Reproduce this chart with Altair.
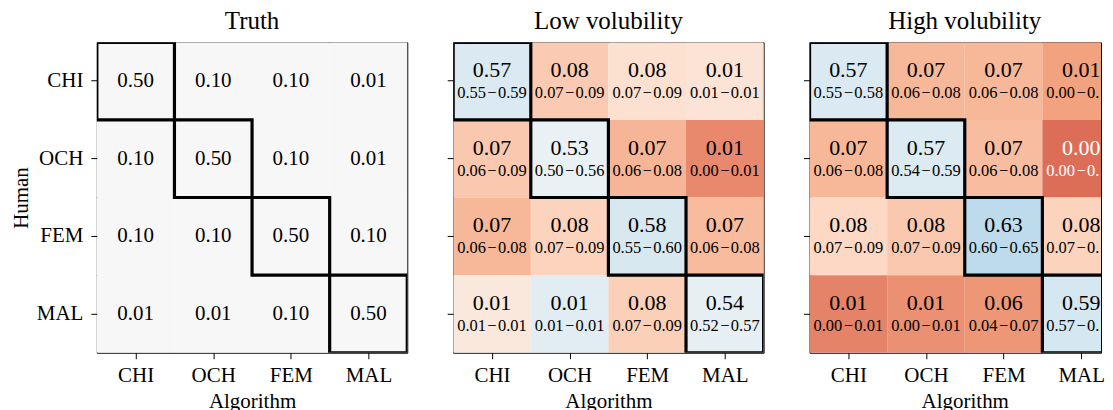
import altair as alt
import pandas as pd

categories = ["CHI", "OCH", "FEM", "MAL"]
panel_titles = ["Truth", "Low volubility", "High volubility"]

truth_vals = [[0.50, 0.10, 0.10, 0.01],
              [0.10, 0.50, 0.10, 0.01],
              [0.10, 0.10, 0.50, 0.10],
              [0.01, 0.01, 0.10, 0.50]]

low_vals = [[0.57, 0.08, 0.08, 0.01],
            [0.07, 0.53, 0.07, 0.01],
            [0.07, 0.08, 0.58, 0.07],
            [0.01, 0.01, 0.08, 0.54]]
low_lo = [[0.55, 0.07, 0.07, 0.01],
          [0.06, 0.50, 0.06, 0.00],
          [0.06, 0.07, 0.55, 0.06],
          [0.01, 0.01, 0.07, 0.52]]
low_hi = [[0.59, 0.09, 0.09, 0.01],
          [0.09, 0.56, 0.08, 0.01],
          [0.08, 0.09, 0.60, 0.08],
          [0.01, 0.01, 0.09, 0.57]]
# relative deviation from truth (drives the colour)
low_dev = [[0.15, -0.26, -0.16, -0.14],
           [-0.27, 0.07, -0.34, -0.48],
           [-0.33, -0.23, 0.17, -0.32],
           [-0.11, 0.11, -0.24, 0.09]]

high_vals = [[0.57, 0.07, 0.07, 0.01],
             [0.07, 0.57, 0.07, 0.00],
             [0.08, 0.08, 0.63, 0.08],
             [0.01, 0.01, 0.06, 0.59]]
high_lo = [[0.55, 0.06, 0.06, 0.00],
           [0.06, 0.54, 0.06, 0.00],
           [0.07, 0.07, 0.60, 0.07],
           [0.00, 0.00, 0.04, 0.57]]
high_hi = [[0.58, 0.08, 0.08, 0.01],
           [0.08, 0.59, 0.08, 0.01],
           [0.09, 0.09, 0.65, 0.09],
           [0.01, 0.01, 0.07, 0.62]]
high_dev = [[0.15, -0.33, -0.33, -0.41],
            [-0.33, 0.14, -0.31, -0.56],
            [-0.21, -0.27, 0.26, -0.23],
            [-0.50, -0.46, -0.44, 0.18]]

# diverging palette (RdBu) and its stops on the deviation axis
rdbu_colors = ["#67001f", "#b2182b", "#d6604d", "#f4a582", "#fddbc7", "#f7f7f7",
               "#d1e5f0", "#92c5de", "#4393c3", "#2166ac", "#053061"]
rdbu_stops = [-1.0, -0.8, -0.6, -0.4, -0.2, 0.0, 0.2, 0.4, 0.6, 0.8, 1.0]

FONT = "Liberation Serif"
FULL = 311        # full panel size in px
CUT = 292         # visible width of the last panel (cut by the page edge)
CI_HALF = 35      # half width of a CI label in px
N = len(categories)


def build_df(vals, lo, hi, dev, width):
    xmax = N * width / FULL          # visible part of the column axis
    rows = []
    for i, h in enumerate(categories):
        for j, a in enumerate(categories):
            center_px = (j + 0.5) * FULL / N
            rows.append({
                "human": h,
                "algo": a,
                "c0": j,
                "c1": min(j + 1, xmax),
                "cm": j + 0.5,
                "co": (xmax + 0.035) if j + 1 > xmax else j + 1,
                "label": f"{vals[i][j]:.2f}",
                "ci": (f"{lo[i][j]:.2f}\u200a\u2212\u200a{hi[i][j]:.2f}" if lo is not None else ""),
                "trunc": center_px + CI_HALF > width,
                "dev": dev[i][j] if dev is not None else 0.0,
                "diag": i == j,
            })
    return pd.DataFrame(rows), xmax


def panel(vals, lo, hi, dev, title, show_y, width=FULL):
    df, xmax = build_df(vals, lo, hi, dev, width)
    show_ci = lo is not None
    label_expr = "[" + ",".join(f"'{c}'" for c in categories) + "][floor(datum.value)]"
    xscale = alt.Scale(domain=[0, xmax], nice=False, zero=False)
    xaxis = alt.Axis(title="Algorithm", values=[k + 0.5 for k in range(N)], labelExpr=label_expr,
                     labelFlush=False, labelOverlap=False, grid=False, titleX=FULL / 2)
    if show_y:
        yaxis = alt.Axis(title="Human")
    else:
        yaxis = alt.Axis(title=None, labels=False)
    yenc = alt.Y("human:N", sort=categories,
                 scale=alt.Scale(paddingInner=0, paddingOuter=0), axis=yaxis)
    base = alt.Chart(df)
    rect = base.mark_rect(clip=True).encode(
        x=alt.X("c0:Q", scale=xscale, axis=xaxis), x2="c1:Q", y=yenc,
        color=alt.Color("dev:Q",
                        scale=alt.Scale(domain=rdbu_stops, range=rdbu_colors, interpolate="rgb"),
                        legend=None)
    )
    tcolor = alt.when(alt.datum.dev < -0.53).then(alt.value("white")).otherwise(alt.value("black"))
    tbase = base.encode(x=alt.X("cm:Q", scale=xscale), y=yenc, color=tcolor)
    layers = [rect]
    if show_ci:
        layers.append(tbase.mark_text(font=FONT, fontSize=22, dy=-11, baseline="middle").encode(
            text="label:N"))
        layers.append(tbase.transform_filter(~alt.datum.trunc).mark_text(
            font=FONT, fontSize=16.5, dy=12, baseline="middle").encode(text="ci:N"))
        if df["trunc"].any():
            limit = width - ((N - 0.5) * FULL / N - CI_HALF)
            layers.append(tbase.transform_filter(alt.datum.trunc).mark_text(
                font=FONT, fontSize=16.5, dy=12, dx=-CI_HALF, align="left", baseline="middle",
                limit=limit, ellipsis="\u200b").encode(text="ci:N"))
    else:
        layers.append(tbase.mark_text(font=FONT, fontSize=21, baseline="middle").encode(
            text="label:N"))
    outline = base.transform_filter(alt.datum.diag).mark_rect(
        filled=False, stroke="black", strokeWidth=3.2, clip=True).encode(
        x=alt.X("c0:Q", scale=xscale), x2="co:Q", y=yenc)
    layers.append(outline)
    return alt.layer(*layers).properties(
        width=width, height=FULL,
        title=alt.TitleParams(title, font=FONT, fontSize=25, fontWeight="normal",
                              color="black", offset=8, dx=(FULL - width) / 2),
    )


p1 = panel(truth_vals, None, None, None, panel_titles[0], True)
p2 = panel(low_vals, low_lo, low_hi, low_dev, panel_titles[1], False)
p3 = panel(high_vals, high_lo, high_hi, high_dev, panel_titles[2], False, width=CUT)

chart = alt.hconcat(p1, p2, p3, spacing=38).properties(
    padding={"left": 1, "top": 0, "right": 0, "bottom": 0}
).configure_view(
    stroke="black", strokeWidth=1
).configure_axis(
    domain=False, tickColor="black", tickSize=6, tickWidth=1,
    labelFont=FONT, labelFontSize=21, labelColor="black",
    titleFont=FONT, titleFontSize=21, titleFontWeight="normal", titleColor="black",
).configure_axisX(
    labelPadding=6, titlePadding=5, labelAngle=0
).configure_axisY(
    labelPadding=8, titlePadding=5
).configure_title(anchor="middle")

chart.save("out.html", embed_options={"renderer": "svg", "actions": False})
